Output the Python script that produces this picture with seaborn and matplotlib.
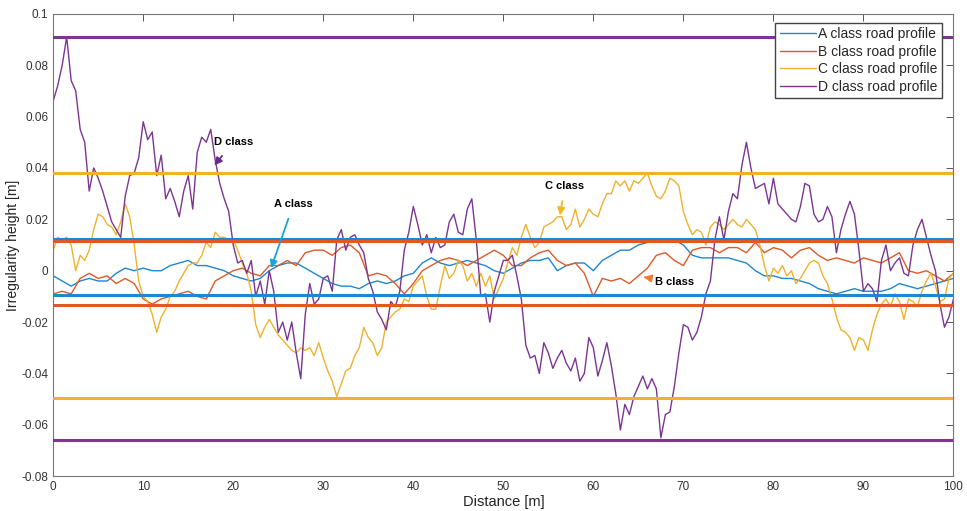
import numpy as np
import pandas as pd
import matplotlib
matplotlib.use("Agg")
import matplotlib.pyplot as plt
import seaborn as sns
from matplotlib.ticker import FuncFormatter

# distance grids [m]
dist_fine = np.arange(0, 100.5, 0.5)
dist_coarse = np.arange(0, 101, 1)

# class A / B profiles (1 m spacing)
a_height = [
    -0.002, -0.004, -0.006, -0.004, -0.003, -0.004, -0.004, -0.001, 0.001, 0.000,
    0.001, 0.000, 0.000, 0.002, 0.003, 0.004, 0.002, 0.002, 0.001, 0.000,
    -0.002, -0.003, -0.004, -0.003, 0.000, 0.002, 0.003, 0.003, 0.001, -0.001,
    -0.003, -0.005, -0.006, -0.006, -0.007, -0.005, -0.004, -0.005, -0.004, -0.002,
    -0.001, 0.003, 0.005, 0.003, 0.002, 0.003, 0.004, 0.003, 0.002, 0.000,
    -0.001, 0.001, 0.003, 0.004, 0.004, 0.005, 0.000, 0.002, 0.003, 0.003,
    0.000, 0.004, 0.006, 0.008, 0.008, 0.010, 0.011, 0.012, 0.012, 0.012,
    0.010, 0.006, 0.005, 0.005, 0.005, 0.005, 0.004, 0.003, 0.000, -0.002,
    -0.002, -0.003, -0.003, -0.004, -0.005, -0.007, -0.008, -0.009, -0.008, -0.007,
    -0.008, -0.008, -0.008, -0.007, -0.005, -0.006, -0.007, -0.006, -0.005, -0.004,
    -0.003,
]
b_height = [
    -0.009, -0.008, -0.009, -0.003, -0.001, -0.003, -0.002, -0.005, -0.003, -0.005,
    -0.011, -0.013, -0.011, -0.010, -0.009, -0.008, -0.010, -0.011, -0.004, -0.002,
    0.000, 0.001, -0.001, -0.002, 0.002, 0.002, 0.004, 0.002, 0.007, 0.008,
    0.008, 0.006, 0.009, 0.010, 0.007, -0.002, -0.001, -0.002, -0.005, -0.009,
    -0.005, 0.000, 0.002, 0.004, 0.005, 0.004, 0.002, 0.004, 0.006, 0.008,
    0.006, 0.002, 0.002, 0.005, 0.007, 0.008, 0.004, 0.002, 0.003, -0.001,
    -0.010, -0.003, -0.004, -0.003, -0.005, -0.002, 0.001, 0.006, 0.007, 0.004,
    0.002, 0.008, 0.009, 0.009, 0.007, 0.009, 0.009, 0.007, 0.011, 0.007,
    0.009, 0.008, 0.005, 0.008, 0.009, 0.006, 0.004, 0.005, 0.004, 0.003,
    0.005, 0.004, 0.003, 0.005, 0.007, 0.000, -0.001, 0.000, -0.002, -0.004,
    -0.001,
]

# class C / D profiles (0.5 m spacing)
c_height = [
    0.008, 0.013, 0.012, 0.013, 0.010, 0.000, 0.006, 0.004, 0.008, 0.016,
    0.022, 0.021, 0.018, 0.017, 0.014, 0.019, 0.026, 0.021, 0.010, -0.004,
    -0.010, -0.012, -0.017, -0.024, -0.018, -0.015, -0.010, -0.008, -0.004, -0.001,
    0.002, 0.003, 0.003, 0.006, 0.011, 0.009, 0.015, 0.013, 0.013, 0.012,
    0.012, 0.008, 0.003, -0.001, -0.008, -0.021, -0.026, -0.022, -0.019, -0.022,
    -0.025, -0.027, -0.029, -0.031, -0.032, -0.030, -0.031, -0.030, -0.033, -0.028,
    -0.034, -0.039, -0.043, -0.049, -0.044, -0.039, -0.038, -0.033, -0.030, -0.022,
    -0.026, -0.028, -0.033, -0.030, -0.020, -0.018, -0.016, -0.015, -0.011, -0.012,
    -0.006, -0.004, -0.002, -0.010, -0.015, -0.015, -0.006, 0.002, -0.003, -0.001,
    0.004, 0.002, -0.004, -0.001, -0.006, -0.001, -0.006, -0.002, -0.011, -0.007,
    -0.003, 0.003, 0.009, 0.006, 0.013, 0.018, 0.013, 0.009, 0.011, 0.017,
    0.018, 0.019, 0.021, 0.021, 0.016, 0.018, 0.024, 0.017, 0.020, 0.024,
    0.022, 0.021, 0.026, 0.030, 0.030, 0.035, 0.033, 0.035, 0.031, 0.035,
    0.034, 0.036, 0.038, 0.033, 0.029, 0.028, 0.031, 0.036, 0.035, 0.033,
    0.023, 0.018, 0.014, 0.016, 0.015, 0.010, 0.017, 0.019, 0.018, 0.016,
    0.018, 0.020, 0.018, 0.017, 0.020, 0.018, 0.016, 0.010, 0.002, -0.004,
    0.001, -0.001, 0.002, -0.002, 0.000, -0.005, -0.003, 0.000, 0.003, 0.004,
    0.003, -0.002, -0.005, -0.011, -0.018, -0.023, -0.024, -0.026, -0.031, -0.026,
    -0.027, -0.031, -0.023, -0.017, -0.013, -0.011, -0.014, -0.009, -0.012, -0.019,
    -0.011, -0.012, -0.014, -0.008, -0.004, -0.001, -0.006, -0.012, -0.011, -0.003,
    -0.001,
]
d_height = [
    0.066, 0.072, 0.080, 0.091, 0.074, 0.070, 0.055, 0.050, 0.031, 0.040,
    0.036, 0.031, 0.025, 0.019, 0.016, 0.013, 0.029, 0.037, 0.038, 0.044,
    0.058, 0.051, 0.054, 0.037, 0.045, 0.028, 0.032, 0.027, 0.021, 0.031,
    0.037, 0.024, 0.046, 0.052, 0.050, 0.055, 0.043, 0.034, 0.028, 0.023,
    0.010, 0.003, 0.004, -0.001, 0.004, -0.010, -0.004, -0.013, 0.000, -0.008,
    -0.024, -0.020, -0.027, -0.020, -0.032, -0.042, -0.017, -0.005, -0.013, -0.011,
    -0.003, -0.002, -0.008, 0.012, 0.016, 0.008, 0.013, 0.014, 0.010, 0.007,
    -0.003, -0.008, -0.016, -0.019, -0.023, -0.012, -0.014, -0.008, 0.008, 0.015,
    0.025, 0.018, 0.010, 0.014, 0.007, 0.013, 0.009, 0.010, 0.019, 0.022,
    0.015, 0.014, 0.024, 0.028, 0.012, -0.010, -0.009, -0.020, -0.008, -0.002,
    0.004, 0.004, 0.006, -0.002, -0.011, -0.029, -0.034, -0.033, -0.040, -0.028,
    -0.032, -0.038, -0.034, -0.031, -0.036, -0.039, -0.034, -0.043, -0.040, -0.026,
    -0.030, -0.041, -0.035, -0.028, -0.037, -0.048, -0.062, -0.052, -0.056, -0.049,
    -0.045, -0.041, -0.046, -0.042, -0.046, -0.065, -0.056, -0.055, -0.045, -0.032,
    -0.021, -0.022, -0.027, -0.024, -0.018, -0.009, -0.004, 0.012, 0.021, 0.012,
    0.023, 0.030, 0.028, 0.041, 0.050, 0.040, 0.032, 0.033, 0.034, 0.026,
    0.036, 0.026, 0.024, 0.022, 0.020, 0.019, 0.025, 0.034, 0.033, 0.022,
    0.019, 0.020, 0.025, 0.021, 0.007, 0.016, 0.022, 0.027, 0.022, 0.008,
    -0.008, -0.005, -0.007, -0.012, 0.004, 0.010, 0.000, 0.003, 0.005, -0.001,
    -0.002, 0.010, 0.016, 0.020, 0.013, 0.006, 0.000, -0.013, -0.022, -0.018,
    -0.011,
]

labels = ["A class road profile", "B class road profile",
          "C class road profile", "D class road profile"]
short_names = ["A class", "B class", "C class", "D class"]
colors = ["#1f86cf", "#dd5a26", "#eeb22c", "#7b3592"]
arrow_colors = ["#1ba1e2", "#f07a30", "#f2b81f", "#6a2c8a"]
upper_limits = [0.0125, 0.0115, 0.038, 0.091]
lower_limits = [-0.0095, -0.0135, -0.0495, -0.066]

frames = [
    pd.DataFrame({"distance": dist_coarse, "height": a_height, "profile": labels[0]}),
    pd.DataFrame({"distance": dist_coarse, "height": b_height, "profile": labels[1]}),
    pd.DataFrame({"distance": dist_fine, "height": c_height, "profile": labels[2]}),
    pd.DataFrame({"distance": dist_fine, "height": d_height, "profile": labels[3]}),
]
df = pd.concat(frames, ignore_index=True)

sns.set_style("white")
plt.rcParams["font.family"] = ["Liberation Sans", "DejaVu Sans"]

fig = plt.figure(figsize=(9.67, 5.11), dpi=100)
ax = fig.add_axes([0.055, 0.068, 0.931, 0.905])

sns.lineplot(data=df, x="distance", y="height", hue="profile",
             hue_order=labels, palette=dict(zip(labels, colors)),
             estimator=None, errorbar=None, linewidth=1.0, ax=ax)

# class limits
for col, hi, lo in zip(colors, upper_limits, lower_limits):
    ax.axhline(hi, color=col, linewidth=2.2, zorder=3)
    ax.axhline(lo, color=col, linewidth=2.2, zorder=3)

# class callouts: (text position, arrow tip)
callouts = [
    ((26.7, 0.026), (24.2, 0.001)),
    ((69.0, -0.0045), (65.6, -0.0025)),
    ((56.8, 0.033), (56.3, 0.0215)),
    ((20.0, 0.050), (17.9, 0.041)),
]
for name, col, (txt, tip) in zip(short_names, arrow_colors, callouts):
    ax.annotate(name, xy=tip, xytext=txt, fontsize=8, fontweight="bold",
                ha="center", va="center", color="black",
                arrowprops=dict(arrowstyle="-|>", color=col, lw=1.3,
                                mutation_scale=11, shrinkA=5, shrinkB=0))

ax.set_xlim(0, 100)
ax.set_ylim(-0.08, 0.1)
ax.set_xticks(np.arange(0, 101, 10))
ax.set_yticks(np.arange(-0.08, 0.101, 0.02))
ax.yaxis.set_major_formatter(FuncFormatter(lambda v, p: "%g" % round(v, 3)))
ax.tick_params(direction="in", length=5, width=0.7, top=True, right=True,
               labelsize=8.5, colors="#555555", labelcolor="#333333")
for s in ax.spines.values():
    s.set_color("#777777")
    s.set_linewidth(0.8)

ax.set_xlabel("Distance [m]", fontsize=10.5, color="#222222", labelpad=1)
ax.set_ylabel("Irregularity height [m]", fontsize=10, color="#222222", labelpad=1)

sns.move_legend(ax, "upper right", title=None, frameon=True, fancybox=False,
                edgecolor="#444444", framealpha=1, fontsize=10,
                handlelength=2.6, handletextpad=0.2, borderpad=0.3,
                labelspacing=0.25, bbox_to_anchor=(0.995, 0.995))

fig.savefig("out.png", dpi=100)
